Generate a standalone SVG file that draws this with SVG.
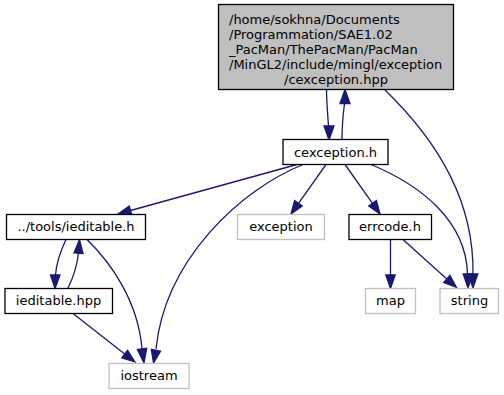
<svg xmlns="http://www.w3.org/2000/svg" width="504" height="395" viewBox="0 0 504 395">
  <style>
    text { font-family: "DejaVu Sans", "Liberation Sans", sans-serif; font-size: 13px; fill: #000; }
    .c { text-anchor: middle; }
    .box { fill: #fff; stroke: #000; stroke-width: 1.3; }
    .ext { fill: #fff; stroke: #bfbfbf; stroke-width: 1.3; }
    .root { fill: #bfbfbf; stroke: #000; stroke-width: 1.3; }
    .edge path { fill: none; stroke: #191970; stroke-width: 1.3; }
    .edge polygon { fill: #191970; stroke: #191970; stroke-width: 1.3; }
  </style>

  <g id="connectors" class="edge">
    <!-- cexception.hpp -> cexception.h -->
    <path d="M326.5,89.5 C326.5,100 327.5,112 328.5,126"/>
    <polygon points="329,140 324,126 334,126"/>
    <!-- cexception.h -> cexception.hpp -->
    <path d="M342,139 C342,130 343,115 344.5,103.5"/>
    <polygon points="345,89.5 340,103.5 350,103.5"/>
    <!-- cexception.hpp -> string -->
    <path d="M384,89 C442,145 474,205 473,274"/>
    <polygon points="473,288 468.2,274 477.8,274"/>
    <!-- cexception.h -> ../tools/ieditable.h -->
    <path d="M297,164.5 L130.5,210.5"/>
    <polygon points="118,214 129.2,206 131.8,215"/>
    <!-- cexception.h -> iostream -->
    <path d="M303,164.5 C240,190 165,260 156,349"/>
    <polygon points="153.5,363 151.3,349.4 160.5,351.1"/>
    <!-- cexception.h -> exception -->
    <path d="M326,164.5 L298.5,203.3"/>
    <polygon points="291,214 294.6,200.6 302.3,206"/>
    <!-- cexception.h -> errcode.h -->
    <path d="M345,164.5 L372.5,203.3"/>
    <polygon points="380,214 368.7,206 376.4,200.6"/>
    <!-- cexception.h -> string -->
    <path d="M371,164.5 C420,185 466,220 467.5,274"/>
    <polygon points="468,288 463.2,274 472.8,274"/>
    <!-- errcode.h -> map -->
    <path d="M390.5,239.5 L390.5,275"/>
    <polygon points="390.5,288.5 385.8,275 395.2,275"/>
    <!-- errcode.h -> string -->
    <path d="M403,239.5 L446.8,278.9"/>
    <polygon points="456.5,287.5 443.7,282.4 449.9,275.4"/>
    <!-- ../tools/ieditable.h -> ieditable.hpp -->
    <path d="M66,239.5 C61,250 56.5,262 55.5,275"/>
    <polygon points="55,288.5 50.5,275 60,275"/>
    <!-- ieditable.hpp -> ../tools/ieditable.h -->
    <path d="M68,288 C73,278 77,266 78.5,253"/>
    <polygon points="79.5,239.5 74,253 83,253.5"/>
    <!-- ../tools/ieditable.h -> iostream -->
    <path d="M87,239.5 C110,262 138,300 142,349"/>
    <polygon points="144,363 137.4,349.6 146.7,348.3"/>
    <!-- ieditable.hpp -> iostream -->
    <path d="M73,313.5 L124.7,354.1"/>
    <polygon points="135,362 121.8,357.8 127.6,350.4"/>
  </g>

  <g id="node-cexception-hpp">
    <rect class="root" x="218.5" y="4.5" width="235" height="85"/>
    <text x="229" y="23.5">/home/sokhna/Documents</text>
    <text x="229" y="38.5">/Programmation/SAE1.02</text>
    <text x="229" y="53.5">_PacMan/ThePacMan/PacMan</text>
    <text x="229" y="68.5">/MinGL2/include/mingl/exception</text>
    <text class="c" x="336" y="83.5">/cexception.hpp</text>
  </g>

  <g id="node-cexception-h">
    <rect class="box" x="283" y="139.5" width="105" height="25"/>
    <text class="c" x="335.5" y="156.5">cexception.h</text>
  </g>

  <g id="node-ieditable-h">
    <rect class="box" x="6.5" y="214.5" width="139" height="25"/>
    <text class="c" x="76" y="231">../tools/ieditable.h</text>
  </g>

  <g id="node-exception">
    <rect class="ext" x="237.5" y="214.5" width="87" height="25"/>
    <text class="c" x="281" y="231">exception</text>
  </g>

  <g id="node-errcode-h">
    <rect class="box" x="349" y="214.5" width="82.5" height="25"/>
    <text class="c" x="390" y="231">errcode.h</text>
  </g>

  <g id="node-ieditable-hpp">
    <rect class="box" x="5" y="288.5" width="107.5" height="25"/>
    <text class="c" x="58.5" y="305">ieditable.hpp</text>
  </g>

  <g id="node-map">
    <rect class="ext" x="365.5" y="288.5" width="50" height="25"/>
    <text class="c" x="390.5" y="305">map</text>
  </g>

  <g id="node-string">
    <rect class="ext" x="440" y="288.5" width="58.5" height="25"/>
    <text class="c" x="469.5" y="305">string</text>
  </g>

  <g id="node-iostream">
    <rect class="ext" x="109" y="363.5" width="80" height="25"/>
    <text class="c" x="149" y="380">iostream</text>
  </g>
</svg>
